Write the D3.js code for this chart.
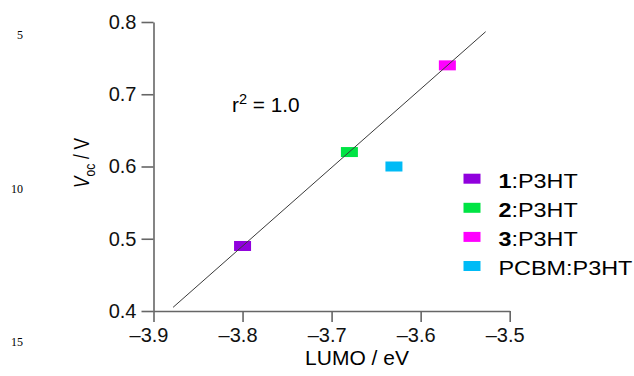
<!DOCTYPE html>
<html>
<head>
<meta charset="utf-8">
<script src="https://cdn.jsdelivr.net/npm/d3@7"></script>
<style>
  body { margin: 0; background: #fff; }
  svg { font-family: "Liberation Sans", Arial, sans-serif; }
  .axis path, .axis line { stroke: #666; stroke-width: 1.6; }
  .axis text { font-size: 20px; fill: #111; }
</style>
</head>
<body>
<svg id="chart" width="634" height="376"></svg>
<script>
// acceptor : P3HT blends
let names = ["1", "2", "3", "PCBM"];
let lumo = [-3.80, -3.68, -3.57, -3.63];
let voc = [0.49, 0.62, 0.74, 0.60];
let colors = ["#9000DD", "#00E444", "#FF00FF", "#00BBF6"];
let fitNames = ["1", "2", "3"];
let fitRange = [-3.878, -3.527];
let xTicks = [-3.9, -3.8, -3.7, -3.6, -3.5];
let yTicks = [0.4, 0.5, 0.6, 0.7, 0.8];
let lineNumbers = [5, 10, 15];

let svg = d3.select("#chart");

let x = d3.scaleLinear().domain([-3.9, -3.5]).range([153.5, 509.7]);
let y = d3.scaleLinear().domain([0.4, 0.8]).range([311, 22]);

let data = names.map((n, i) => ({name: n, x: lumo[i], y: voc[i], color: colors[i]}));

// manuscript line numbers
svg.append("g")
  .selectAll("text")
  .data(lineNumbers)
  .join("text")
  .attr("x", 23)
  .attr("y", (d, i) => [38.5, 192.7, 346][i])
  .attr("text-anchor", "end")
  .style("font-family", "'Liberation Serif', 'Times New Roman', serif")
  .style("font-size", "12px")
  .text(d => d);

// axes
svg.append("g")
  .attr("class", "axis")
  .attr("transform", `translate(0,${y(0.4)})`)
  .call(d3.axisBottom(x).tickValues(xTicks).tickSize(11).tickSizeOuter(0).tickPadding(6)
    .tickFormat(d => "\u2013" + Math.abs(d).toFixed(1)))
  .selectAll("text").attr("dx", "-0.25em");

svg.append("g")
  .attr("class", "axis")
  .attr("transform", `translate(${x(-3.9)},0)`)
  .call(d3.axisLeft(y).tickValues(yTicks).tickSize(12).tickSizeOuter(0).tickPadding(5)
    .tickFormat(d3.format(".1f")));

// axis titles
svg.append("text")
  .attr("transform", "translate(357,365) scale(1.05,1)")
  .attr("text-anchor", "middle")
  .style("font-size", "20px")
  .text("LUMO / eV");

let yt = svg.append("text")
  .attr("transform", "translate(89,163) rotate(-90) scale(0.86,1.1)")
  .attr("text-anchor", "middle")
  .style("font-size", "20px");
yt.append("tspan").style("font-style", "italic").text("V");
yt.append("tspan").attr("dy", 5).style("font-size", "14px").text("oc");
yt.append("tspan").attr("dy", -5).text(" / V");

// linear fit through the three new acceptors
let fitPts = data.filter(d => fitNames.includes(d.name));
let mx = d3.mean(fitPts, d => d.x), my = d3.mean(fitPts, d => d.y);
let slope = d3.sum(fitPts, d => (d.x - mx) * (d.y - my)) / d3.sum(fitPts, d => (d.x - mx) ** 2);
let icpt = my - slope * mx;

// points
svg.append("g")
  .selectAll("rect")
  .data(data)
  .join("rect")
  .attr("x", d => x(d.x) - 8.5)
  .attr("y", d => y(d.y) - 5)
  .attr("width", 17)
  .attr("height", 10)
  .attr("fill", d => d.color);

// fit line drawn over the markers
svg.append("path")
  .datum(fitRange.map(v => [v, icpt + slope * v]))
  .attr("fill", "none")
  .attr("stroke", "#3a3a3a")
  .attr("stroke-width", 1)
  .attr("d", d3.line().x(d => x(d[0])).y(d => y(d[1])));

// r^2 annotation
let r2 = svg.append("text")
  .attr("transform", "translate(232,112) scale(1.04,1)")
  .style("font-size", "20px");
r2.append("tspan").text("r");
r2.append("tspan").attr("dy", -8).style("font-size", "14px").text("2");
r2.append("tspan").attr("dy", 8).text(" = 1.0");

// legend
let legend = svg.append("g")
  .selectAll("g")
  .data(data)
  .join("g")
  .attr("transform", (d, i) => `translate(463.5,${178.7 + i * 29.1})`);

legend.append("rect")
  .attr("x", 0)
  .attr("y", -5)
  .attr("width", 17)
  .attr("height", 10)
  .attr("fill", d => d.color);

let lt = legend.append("text")
  .attr("transform", "translate(35,9) scale(1.17,1)")
  .style("font-size", "20px");
lt.append("tspan")
  .style("font-weight", d => d.name === "PCBM" ? "normal" : "bold")
  .text(d => d.name);
lt.append("tspan").text(":P3HT");
</script>
</body>
</html>
